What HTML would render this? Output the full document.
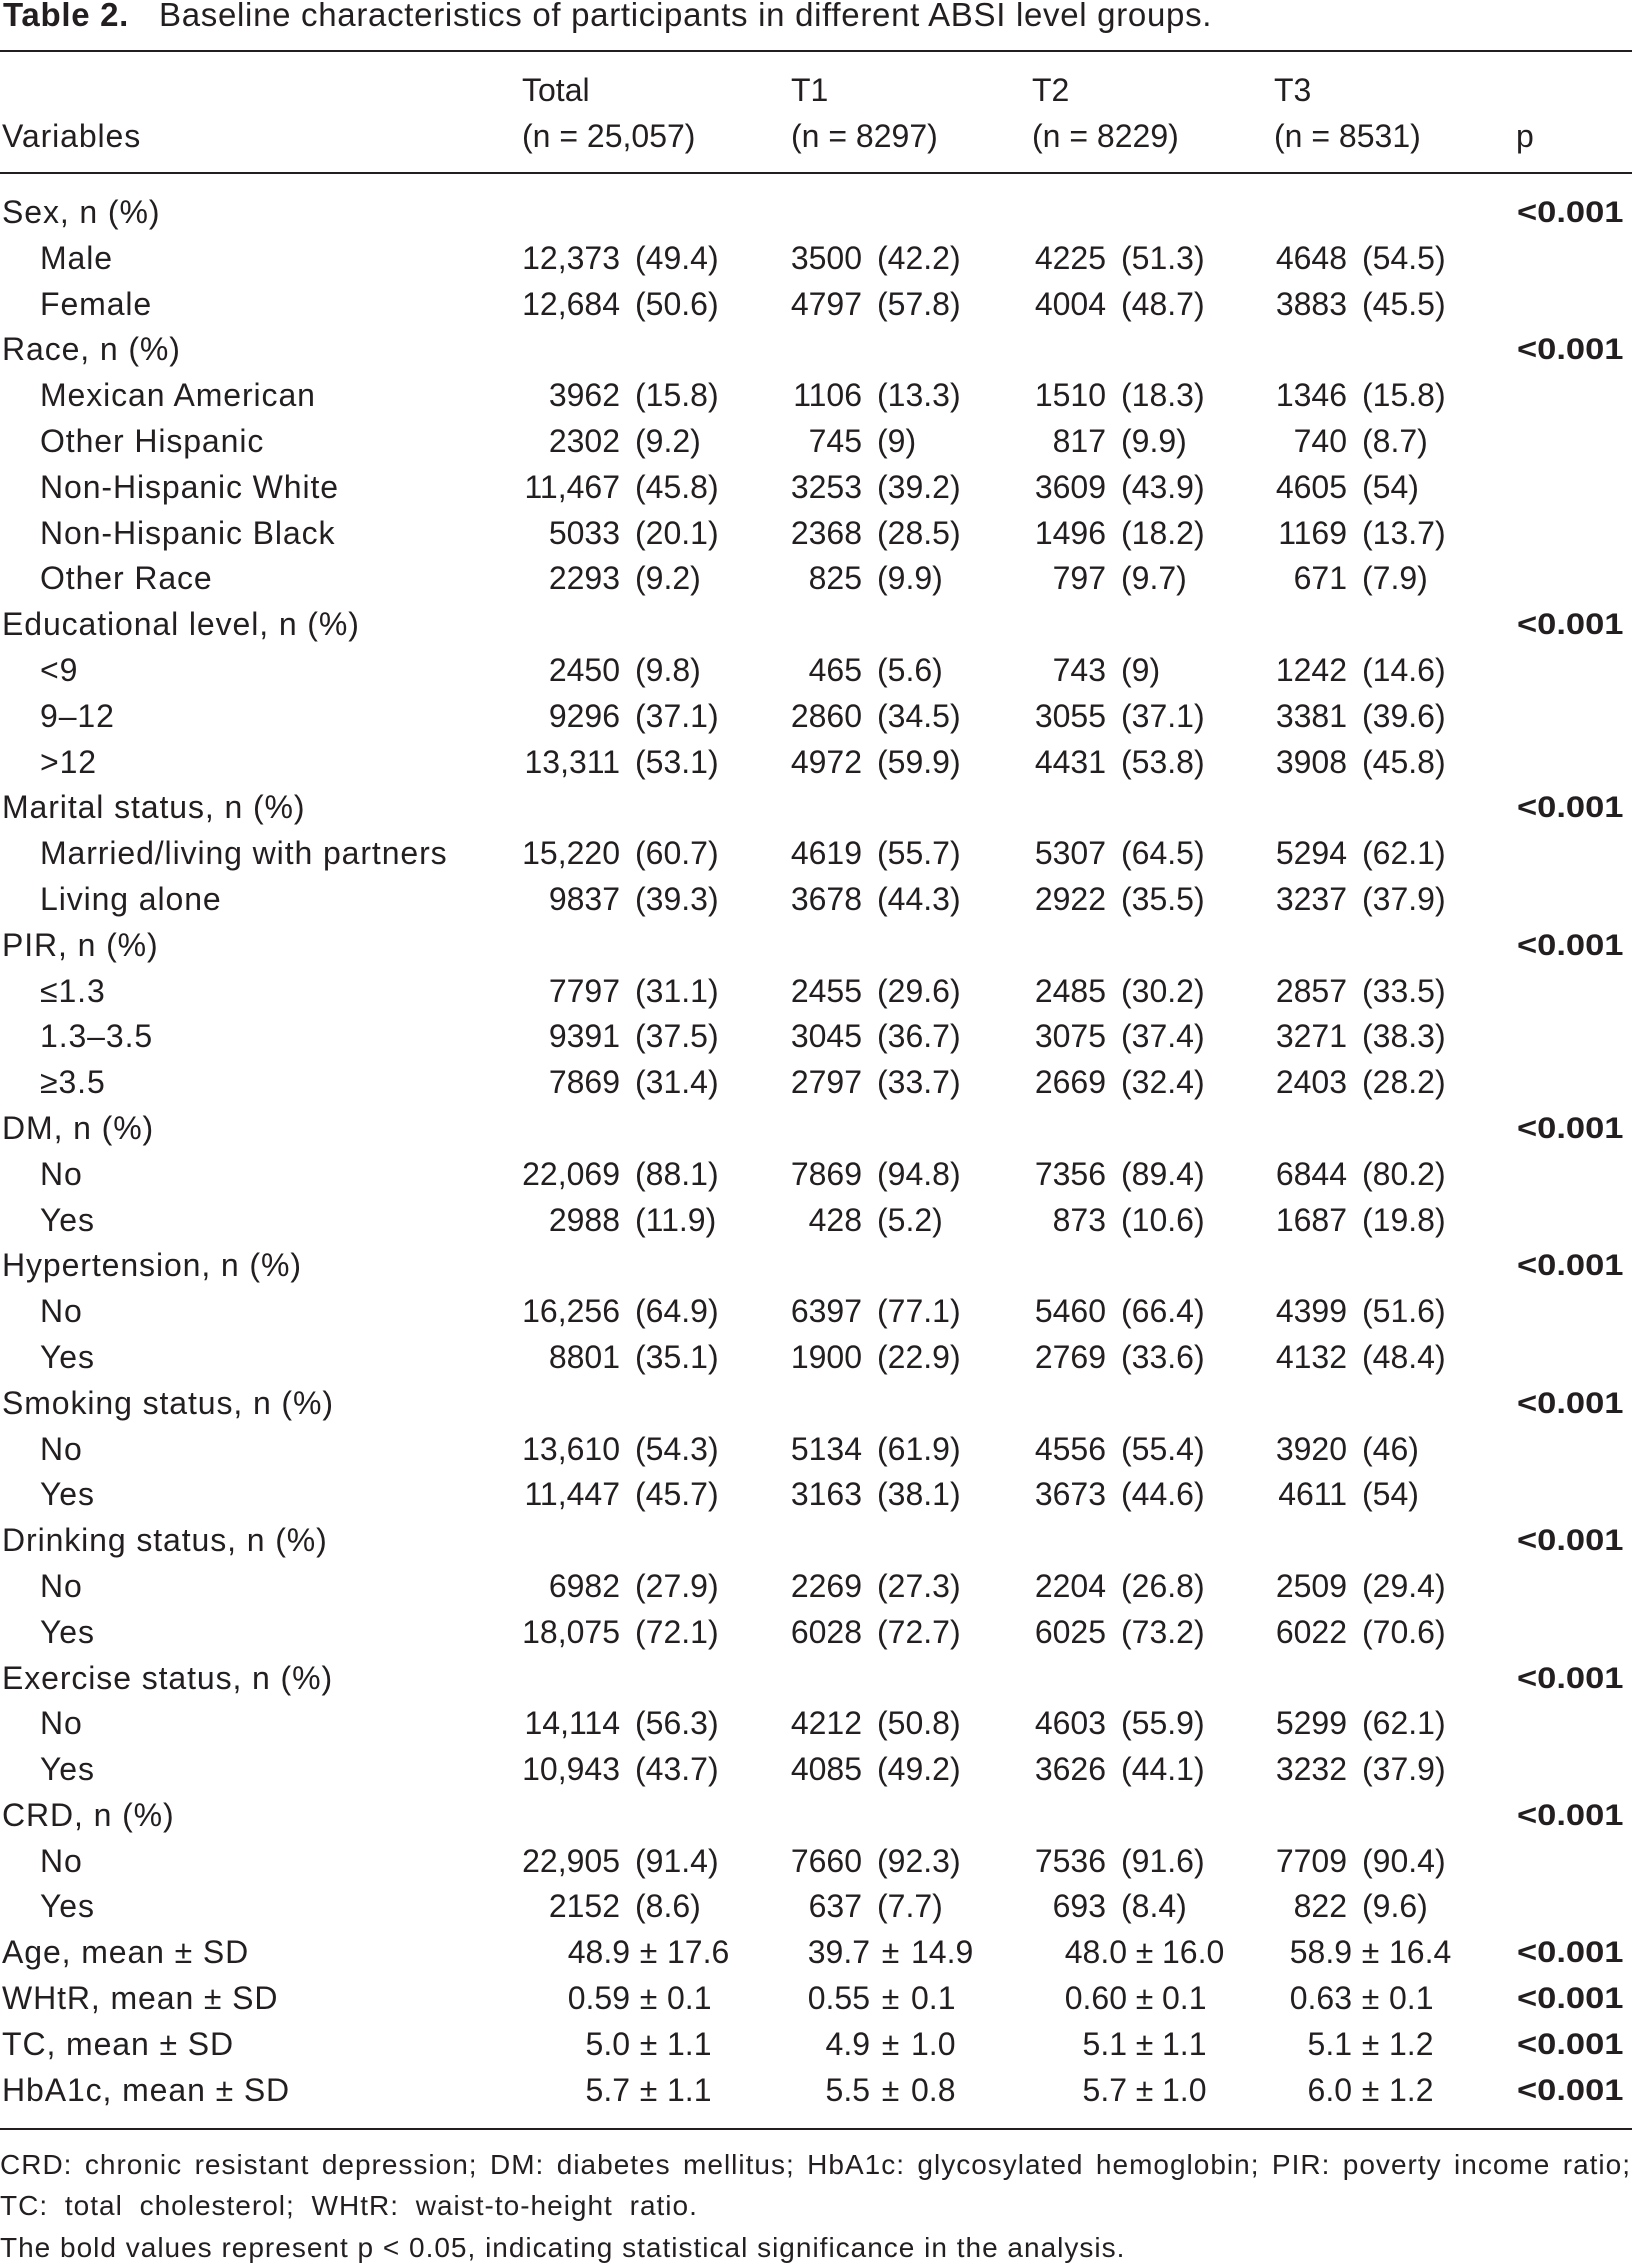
<!DOCTYPE html>
<html>
<head>
<meta charset="utf-8">
<style>
html,body{margin:0;padding:0;background:#fff;}
body{width:1632px;height:2267px;position:relative;overflow:hidden;color:#231f20;font-family:"Liberation Sans",Arial,sans-serif;}
.t{position:absolute;white-space:nowrap;}
.title{top:-2px;font-size:33px;line-height:33px;letter-spacing:0.7px;}
.rule{position:absolute;left:0;width:1632px;height:2px;background:#231f20;}
.hd{position:absolute;left:0;width:1632px;height:32px;font-size:32px;line-height:32px;}
.hd span{position:absolute;top:0;white-space:nowrap;}
#rows{position:absolute;left:0;top:196px;width:1632px;}
.r{position:relative;width:1632px;height:45.8px;font-size:32px;line-height:32px;}
.r span,.r b{position:absolute;top:0;white-space:nowrap;}
.l{left:2px;letter-spacing:0.9px;}
.s{left:40px;letter-spacing:0.9px;}
.c0{right:1012px;} .p0{left:635px;}
.c1{right:770px;}  .p1{left:877px;}
.c2{right:526px;}  .p2{left:1121px;}
.c3{right:285px;}  .p3{left:1362px;}
.r b.pv{left:1517px;top:1px;font-size:30px;font-weight:bold;transform:scaleX(1.15);transform-origin:0 0;}
.m0{right:1002px;} .pm0{left:632px;width:33px;text-align:center;} .sd0{left:667px;}
.m1{right:762px;}  .pm1{left:872px;width:37px;text-align:center;} .sd1{left:911px;}
.m2{right:505px;}  .pm2{left:1129px;width:31px;text-align:center;} .sd2{left:1162px;}
.m3{right:280px;}  .pm3{left:1354px;width:33px;text-align:center;} .sd3{left:1389px;}
.fn{position:absolute;left:0;font-size:28px;line-height:28px;letter-spacing:1px;white-space:nowrap;}
.fn1{width:1631px;white-space:normal;text-align:justify;text-align-last:justify;}
.fn2{word-spacing:8px;}
.fn3{word-spacing:0px;}
</style>
</head>
<body>

<div class="t title" style="left:3px;font-weight:bold;">Table 2.</div>
<div class="t title" style="left:159px;">Baseline characteristics of participants in different ABSI level groups.</div>

<div class="rule" style="top:50px;"></div>

<div class="hd" style="top:74px;">
  <span style="left:522px;">Total</span>
  <span style="left:791px;">T1</span>
  <span style="left:1032px;">T2</span>
  <span style="left:1274px;">T3</span>
</div>
<div class="hd" style="top:120px;">
  <span style="left:2px;letter-spacing:0.9px;">Variables</span>
  <span style="left:522px;">(n = 25,057)</span>
  <span style="left:791px;">(n = 8297)</span>
  <span style="left:1032px;">(n = 8229)</span>
  <span style="left:1274px;">(n = 8531)</span>
  <span style="left:1516px;">p</span>
</div>

<div class="rule" style="top:172px;"></div>

<div id="rows">
<div class="r"><span class="l">Sex, n (%)</span><b class="pv">&lt;0.001</b></div>
<div class="r"><span class="s">Male</span><span class="c0">12,373</span><span class="p0">(49.4)</span><span class="c1">3500</span><span class="p1">(42.2)</span><span class="c2">4225</span><span class="p2">(51.3)</span><span class="c3">4648</span><span class="p3">(54.5)</span></div>
<div class="r"><span class="s">Female</span><span class="c0">12,684</span><span class="p0">(50.6)</span><span class="c1">4797</span><span class="p1">(57.8)</span><span class="c2">4004</span><span class="p2">(48.7)</span><span class="c3">3883</span><span class="p3">(45.5)</span></div>
<div class="r"><span class="l">Race, n (%)</span><b class="pv">&lt;0.001</b></div>
<div class="r"><span class="s">Mexican American</span><span class="c0">3962</span><span class="p0">(15.8)</span><span class="c1">1106</span><span class="p1">(13.3)</span><span class="c2">1510</span><span class="p2">(18.3)</span><span class="c3">1346</span><span class="p3">(15.8)</span></div>
<div class="r"><span class="s">Other Hispanic</span><span class="c0">2302</span><span class="p0">(9.2)</span><span class="c1">745</span><span class="p1">(9)</span><span class="c2">817</span><span class="p2">(9.9)</span><span class="c3">740</span><span class="p3">(8.7)</span></div>
<div class="r"><span class="s">Non-Hispanic White</span><span class="c0">11,467</span><span class="p0">(45.8)</span><span class="c1">3253</span><span class="p1">(39.2)</span><span class="c2">3609</span><span class="p2">(43.9)</span><span class="c3">4605</span><span class="p3">(54)</span></div>
<div class="r"><span class="s">Non-Hispanic Black</span><span class="c0">5033</span><span class="p0">(20.1)</span><span class="c1">2368</span><span class="p1">(28.5)</span><span class="c2">1496</span><span class="p2">(18.2)</span><span class="c3">1169</span><span class="p3">(13.7)</span></div>
<div class="r"><span class="s">Other Race</span><span class="c0">2293</span><span class="p0">(9.2)</span><span class="c1">825</span><span class="p1">(9.9)</span><span class="c2">797</span><span class="p2">(9.7)</span><span class="c3">671</span><span class="p3">(7.9)</span></div>
<div class="r"><span class="l">Educational level, n (%)</span><b class="pv">&lt;0.001</b></div>
<div class="r"><span class="s">&lt;9</span><span class="c0">2450</span><span class="p0">(9.8)</span><span class="c1">465</span><span class="p1">(5.6)</span><span class="c2">743</span><span class="p2">(9)</span><span class="c3">1242</span><span class="p3">(14.6)</span></div>
<div class="r"><span class="s">9–12</span><span class="c0">9296</span><span class="p0">(37.1)</span><span class="c1">2860</span><span class="p1">(34.5)</span><span class="c2">3055</span><span class="p2">(37.1)</span><span class="c3">3381</span><span class="p3">(39.6)</span></div>
<div class="r"><span class="s">&gt;12</span><span class="c0">13,311</span><span class="p0">(53.1)</span><span class="c1">4972</span><span class="p1">(59.9)</span><span class="c2">4431</span><span class="p2">(53.8)</span><span class="c3">3908</span><span class="p3">(45.8)</span></div>
<div class="r"><span class="l">Marital status, n (%)</span><b class="pv">&lt;0.001</b></div>
<div class="r"><span class="s">Married/living with partners</span><span class="c0">15,220</span><span class="p0">(60.7)</span><span class="c1">4619</span><span class="p1">(55.7)</span><span class="c2">5307</span><span class="p2">(64.5)</span><span class="c3">5294</span><span class="p3">(62.1)</span></div>
<div class="r"><span class="s">Living alone</span><span class="c0">9837</span><span class="p0">(39.3)</span><span class="c1">3678</span><span class="p1">(44.3)</span><span class="c2">2922</span><span class="p2">(35.5)</span><span class="c3">3237</span><span class="p3">(37.9)</span></div>
<div class="r"><span class="l">PIR, n (%)</span><b class="pv">&lt;0.001</b></div>
<div class="r"><span class="s">≤1.3</span><span class="c0">7797</span><span class="p0">(31.1)</span><span class="c1">2455</span><span class="p1">(29.6)</span><span class="c2">2485</span><span class="p2">(30.2)</span><span class="c3">2857</span><span class="p3">(33.5)</span></div>
<div class="r"><span class="s">1.3–3.5</span><span class="c0">9391</span><span class="p0">(37.5)</span><span class="c1">3045</span><span class="p1">(36.7)</span><span class="c2">3075</span><span class="p2">(37.4)</span><span class="c3">3271</span><span class="p3">(38.3)</span></div>
<div class="r"><span class="s">≥3.5</span><span class="c0">7869</span><span class="p0">(31.4)</span><span class="c1">2797</span><span class="p1">(33.7)</span><span class="c2">2669</span><span class="p2">(32.4)</span><span class="c3">2403</span><span class="p3">(28.2)</span></div>
<div class="r"><span class="l">DM, n (%)</span><b class="pv">&lt;0.001</b></div>
<div class="r"><span class="s">No</span><span class="c0">22,069</span><span class="p0">(88.1)</span><span class="c1">7869</span><span class="p1">(94.8)</span><span class="c2">7356</span><span class="p2">(89.4)</span><span class="c3">6844</span><span class="p3">(80.2)</span></div>
<div class="r"><span class="s">Yes</span><span class="c0">2988</span><span class="p0">(11.9)</span><span class="c1">428</span><span class="p1">(5.2)</span><span class="c2">873</span><span class="p2">(10.6)</span><span class="c3">1687</span><span class="p3">(19.8)</span></div>
<div class="r"><span class="l">Hypertension, n (%)</span><b class="pv">&lt;0.001</b></div>
<div class="r"><span class="s">No</span><span class="c0">16,256</span><span class="p0">(64.9)</span><span class="c1">6397</span><span class="p1">(77.1)</span><span class="c2">5460</span><span class="p2">(66.4)</span><span class="c3">4399</span><span class="p3">(51.6)</span></div>
<div class="r"><span class="s">Yes</span><span class="c0">8801</span><span class="p0">(35.1)</span><span class="c1">1900</span><span class="p1">(22.9)</span><span class="c2">2769</span><span class="p2">(33.6)</span><span class="c3">4132</span><span class="p3">(48.4)</span></div>
<div class="r"><span class="l">Smoking status, n (%)</span><b class="pv">&lt;0.001</b></div>
<div class="r"><span class="s">No</span><span class="c0">13,610</span><span class="p0">(54.3)</span><span class="c1">5134</span><span class="p1">(61.9)</span><span class="c2">4556</span><span class="p2">(55.4)</span><span class="c3">3920</span><span class="p3">(46)</span></div>
<div class="r"><span class="s">Yes</span><span class="c0">11,447</span><span class="p0">(45.7)</span><span class="c1">3163</span><span class="p1">(38.1)</span><span class="c2">3673</span><span class="p2">(44.6)</span><span class="c3">4611</span><span class="p3">(54)</span></div>
<div class="r"><span class="l">Drinking status, n (%)</span><b class="pv">&lt;0.001</b></div>
<div class="r"><span class="s">No</span><span class="c0">6982</span><span class="p0">(27.9)</span><span class="c1">2269</span><span class="p1">(27.3)</span><span class="c2">2204</span><span class="p2">(26.8)</span><span class="c3">2509</span><span class="p3">(29.4)</span></div>
<div class="r"><span class="s">Yes</span><span class="c0">18,075</span><span class="p0">(72.1)</span><span class="c1">6028</span><span class="p1">(72.7)</span><span class="c2">6025</span><span class="p2">(73.2)</span><span class="c3">6022</span><span class="p3">(70.6)</span></div>
<div class="r"><span class="l">Exercise status, n (%)</span><b class="pv">&lt;0.001</b></div>
<div class="r"><span class="s">No</span><span class="c0">14,114</span><span class="p0">(56.3)</span><span class="c1">4212</span><span class="p1">(50.8)</span><span class="c2">4603</span><span class="p2">(55.9)</span><span class="c3">5299</span><span class="p3">(62.1)</span></div>
<div class="r"><span class="s">Yes</span><span class="c0">10,943</span><span class="p0">(43.7)</span><span class="c1">4085</span><span class="p1">(49.2)</span><span class="c2">3626</span><span class="p2">(44.1)</span><span class="c3">3232</span><span class="p3">(37.9)</span></div>
<div class="r"><span class="l">CRD, n (%)</span><b class="pv">&lt;0.001</b></div>
<div class="r"><span class="s">No</span><span class="c0">22,905</span><span class="p0">(91.4)</span><span class="c1">7660</span><span class="p1">(92.3)</span><span class="c2">7536</span><span class="p2">(91.6)</span><span class="c3">7709</span><span class="p3">(90.4)</span></div>
<div class="r"><span class="s">Yes</span><span class="c0">2152</span><span class="p0">(8.6)</span><span class="c1">637</span><span class="p1">(7.7)</span><span class="c2">693</span><span class="p2">(8.4)</span><span class="c3">822</span><span class="p3">(9.6)</span></div>
<div class="r"><span class="l">Age, mean ± SD</span><span class="m0">48.9</span><span class="pm0">±</span><span class="sd0">17.6</span><span class="m1">39.7</span><span class="pm1">±</span><span class="sd1">14.9</span><span class="m2">48.0</span><span class="pm2">±</span><span class="sd2">16.0</span><span class="m3">58.9</span><span class="pm3">±</span><span class="sd3">16.4</span><b class="pv">&lt;0.001</b></div>
<div class="r"><span class="l">WHtR, mean ± SD</span><span class="m0">0.59</span><span class="pm0">±</span><span class="sd0">0.1</span><span class="m1">0.55</span><span class="pm1">±</span><span class="sd1">0.1</span><span class="m2">0.60</span><span class="pm2">±</span><span class="sd2">0.1</span><span class="m3">0.63</span><span class="pm3">±</span><span class="sd3">0.1</span><b class="pv">&lt;0.001</b></div>
<div class="r"><span class="l">TC, mean ± SD</span><span class="m0">5.0</span><span class="pm0">±</span><span class="sd0">1.1</span><span class="m1">4.9</span><span class="pm1">±</span><span class="sd1">1.0</span><span class="m2">5.1</span><span class="pm2">±</span><span class="sd2">1.1</span><span class="m3">5.1</span><span class="pm3">±</span><span class="sd3">1.2</span><b class="pv">&lt;0.001</b></div>
<div class="r"><span class="l">HbA1c, mean ± SD</span><span class="m0">5.7</span><span class="pm0">±</span><span class="sd0">1.1</span><span class="m1">5.5</span><span class="pm1">±</span><span class="sd1">0.8</span><span class="m2">5.7</span><span class="pm2">±</span><span class="sd2">1.0</span><span class="m3">6.0</span><span class="pm3">±</span><span class="sd3">1.2</span><b class="pv">&lt;0.001</b></div>
</div>

<div class="rule" style="top:2128px;"></div>

<div class="fn fn1" style="top:2151px;">CRD: chronic resistant depression; DM: diabetes mellitus; HbA1c: glycosylated hemoglobin; PIR: poverty income ratio;</div>
<div class="fn fn2" style="top:2192px;">TC: total cholesterol; WHtR: waist-to-height ratio.</div>
<div class="fn fn3" style="top:2234px;">The bold values represent p &lt; 0.05, indicating statistical significance in the analysis.</div>

</body>
</html>
